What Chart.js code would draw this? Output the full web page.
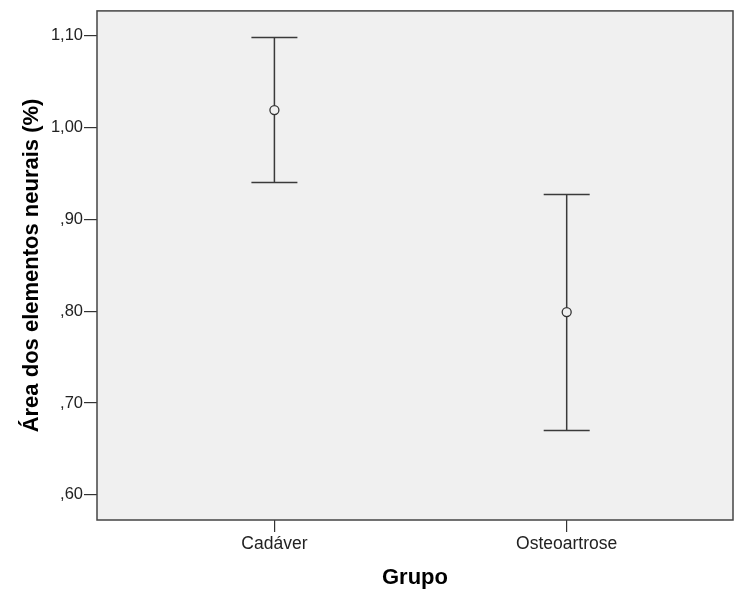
<!DOCTYPE html>
<html>
<head>
<meta charset="utf-8">
<script src="https://cdn.jsdelivr.net/npm/chart.js@4/dist/chart.umd.min.js"></script>
<style>
  html, body { margin: 0; padding: 0; background: #fff; }
  canvas { display: block; }
</style>
</head>
<body>
<canvas id="errChart" width="734" height="591"></canvas>
<script>
// data
const groups = ['Cadáver', 'Osteoartrose'];
const means = [1.019, 0.799];
const upperCI = [1.098, 0.927];
const lowerCI = [0.940, 0.670];
const yTicks = [0.6, 0.7, 0.8, 0.9, 1.0, 1.1];

const lineColor = '#333333';
const plotBg = '#f0f0f0';

const fmtComma = v => v.toFixed(2).replace('.', ',').replace(/^0/, '');

// plot panel background + frame
const panelPlugin = {
    id: 'panel',
    beforeDraw(chart) {
        const { ctx, chartArea: a } = chart;
        ctx.save();
        ctx.fillStyle = plotBg;
        ctx.fillRect(a.left, a.top, a.right - a.left, a.bottom - a.top);
        ctx.restore();
    },
    afterDraw(chart) {
        const { ctx, chartArea: a } = chart;
        ctx.save();
        ctx.strokeStyle = '#444';
        ctx.lineWidth = 1.5;
        ctx.strokeRect(a.left, a.top, a.right - a.left, a.bottom - a.top);
        ctx.restore();
    }
};

// whiskers with caps, from the CI arrays
const errorBarPlugin = {
    id: 'errorBars',
    beforeDatasetsDraw(chart) {
        const { ctx, scales: { x, y } } = chart;
        const cap = 23;
        ctx.save();
        ctx.strokeStyle = '#3a3a3a';
        ctx.lineWidth = 1.5;
        groups.forEach((g, i) => {
            const px = x.getPixelForValue(i);
            const yHi = y.getPixelForValue(upperCI[i]);
            const yLo = y.getPixelForValue(lowerCI[i]);
            ctx.beginPath();
            ctx.moveTo(px, yHi);
            ctx.lineTo(px, yLo);
            ctx.moveTo(px - cap, yHi);
            ctx.lineTo(px + cap, yHi);
            ctx.moveTo(px - cap, yLo);
            ctx.lineTo(px + cap, yLo);
            ctx.stroke();
        });
        ctx.restore();
    }
};

new Chart(document.getElementById('errChart'), {
    type: 'scatter',
    data: {
        datasets: [{
            data: groups.map((g, i) => ({ x: i, y: means[i] })),
            pointStyle: 'circle',
            pointRadius: 4.5,
            pointBorderWidth: 1.3,
            pointBorderColor: lineColor,
            pointBackgroundColor: plotBg
        }]
    },
    options: {
        responsive: false,
        animation: false,
        layout: { autoPadding: false, padding: { top: 8, right: 1, left: 0, bottom: 0 } },
        plugins: { legend: { display: false }, tooltip: { enabled: false } },
        scales: {
            x: {
                type: 'linear',
                min: -0.607,
                max: 1.569,
                afterBuildTicks: s => { s.ticks = groups.map((g, i) => ({ value: i })); },
                afterFit: s => { s.height = 71; },
                ticks: {
                    autoSkip: false,
                    maxRotation: 0,
                    padding: 2,
                    color: '#222',
                    font: { family: "'Liberation Sans', Arial, sans-serif", size: 17.5 },
                    callback: v => groups[v]
                },
                grid: { drawOnChartArea: false, drawTicks: true, tickLength: 12, color: lineColor, lineWidth: 1.2 },
                border: { display: false },
                title: {
                    display: true,
                    text: 'Grupo',
                    color: '#000',
                    padding: { top: 0, bottom: 0 },
                    font: { family: "'Liberation Sans', Arial, sans-serif", size: 22, weight: 'bold' }
                }
            },
            y: {
                min: 0.5726,
                max: 1.127,
                afterBuildTicks: s => { s.ticks = yTicks.map(v => ({ value: v })); },
                afterFit: s => { s.width = 97; },
                ticks: {
                    padding: 1,
                    color: '#222',
                    font: { family: "'Liberation Sans', Arial, sans-serif", size: 16.5 },
                    callback: v => fmtComma(v)
                },
                grid: { drawOnChartArea: false, drawTicks: true, tickLength: 13, color: lineColor, lineWidth: 1.2 },
                border: { display: false },
                title: {
                    display: true,
                    text: 'Área dos elementos neurais (%)',
                    color: '#000',
                    padding: { top: 19, bottom: 0 },
                    font: { family: "'Liberation Sans', Arial, sans-serif", size: 22, weight: 'bold' }
                }
            }
        }
    },
    plugins: [panelPlugin, errorBarPlugin]
});
</script>
</body>
</html>
